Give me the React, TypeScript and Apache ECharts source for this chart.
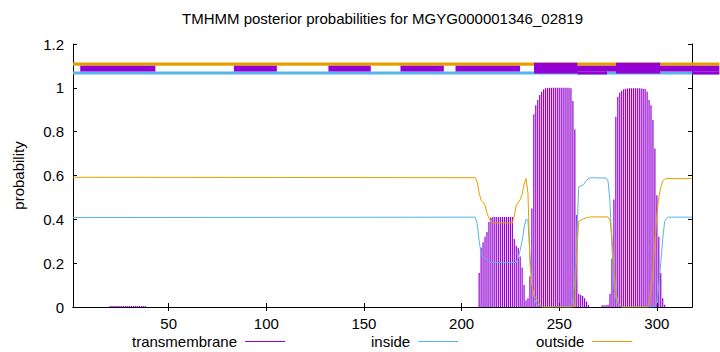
import React, { useEffect, useRef } from "react";
import * as echarts from "echarts";

const TITLE = "TMHMM posterior probabilities for MGYG000001346_02819";
const SEQ_START = 1;
const SEQ_END = 318;
const xTickValues = [50, 100, 150, 200, 250, 300];

// transmembrane posterior (impulses), [position, probability]
const transmembrane: [number, number][] = [
  [20, 0.005], [21, 0.005], [22, 0.005], [23, 0.005], [24, 0.005], [25, 0.005], [26, 0.005],
  [27, 0.005], [28, 0.005], [29, 0.005], [30, 0.005], [31, 0.005], [32, 0.005], [33, 0.005],
  [34, 0.005], [35, 0.005], [36, 0.005], [37, 0.005], [38, 0.005],
  [209, 0.155], [210, 0.27], [211, 0.296], [212, 0.32], [213, 0.342], [214, 0.388], [215, 0.408],
  [216, 0.411], [217, 0.411], [218, 0.411], [219, 0.411], [220, 0.411], [221, 0.411], [222, 0.411],
  [223, 0.411], [224, 0.411], [225, 0.411], [226, 0.411],
  [227, 0.31], [228, 0.28], [229, 0.27], [230, 0.23], [231, 0.18], [232, 0.1], [233, 0.03],
  [234, 0.04], [235, 0.14], [236, 0.45], [237, 0.88], [238, 0.92], [239, 0.944], [240, 0.967],
  [241, 0.982], [242, 0.993], [243, 0.998], [244, 1.0], [245, 1.0], [246, 1.0], [247, 1.0],
  [248, 1.0], [249, 1.0], [250, 1.0], [251, 1.0], [252, 1.0], [253, 1.0], [254, 1.0], [255, 1.0],
  [256, 0.998], [257, 0.94], [258, 0.81], [259, 0.42], [260, 0.06], [261, 0.055], [262, 0.05],
  [263, 0.04], [264, 0.025], [265, 0.01],
  [272, 0.008], [273, 0.008], [274, 0.008], [275, 0.01], [276, 0.06], [277, 0.22], [278, 0.49],
  [279, 0.868], [280, 0.959], [281, 0.979], [282, 0.987], [283, 0.993], [284, 0.996], [285, 0.997],
  [286, 0.998], [287, 0.998], [288, 0.998], [289, 0.998], [290, 0.998], [291, 0.998], [292, 0.997],
  [293, 0.996], [294, 0.995], [295, 0.982], [296, 0.944], [297, 0.921], [298, 0.853], [299, 0.723],
  [300, 0.51], [301, 0.32], [302, 0.155], [303, 0.04], [304, 0.01],
];

// inside posterior, [position, probability]
const inside: [number, number][] = [
  [1, 0.408], [207, 0.41], [208, 0.38], [209, 0.3], [210, 0.245], [211, 0.228], [212, 0.222],
  [213, 0.215], [214, 0.208], [215, 0.204], [216, 0.203], [228, 0.203], [229, 0.225], [230, 0.26],
  [231, 0.3], [232, 0.36], [233, 0.4], [234, 0.395], [235, 0.24], [236, 0.11], [237, 0.05],
  [238, 0.02], [239, 0.008], [240, 0.003], [241, 0], [256, 0], [257, 0.03], [258, 0.12],
  [259, 0.33], [260, 0.548], [261, 0.552], [262, 0.556], [263, 0.565], [264, 0.578], [265, 0.586],
  [266, 0.59], [274, 0.588], [275, 0.575], [276, 0.48], [277, 0.27], [278, 0.1], [279, 0.04],
  [280, 0.015], [281, 0.005], [282, 0], [299, 0], [300, 0.02], [301, 0.1], [302, 0.2],
  [303, 0.31], [304, 0.39], [305, 0.405], [306, 0.41], [318, 0.41],
];

// outside posterior, [position, probability]
const outside: [number, number][] = [
  [1, 0.592], [207, 0.59], [208, 0.57], [209, 0.52], [210, 0.487], [211, 0.478], [212, 0.465],
  [213, 0.43], [214, 0.405], [215, 0.388], [216, 0.384], [226, 0.384], [227, 0.415], [228, 0.465],
  [229, 0.476], [230, 0.49], [231, 0.515], [232, 0.56], [233, 0.586], [234, 0.52], [235, 0.2],
  [236, 0.1], [237, 0.055], [238, 0.042], [239, 0.03], [240, 0.01], [241, 0.003], [242, 0],
  [258, 0], [259, 0.25], [260, 0.39], [261, 0.395], [262, 0.4], [264, 0.408], [266, 0.411],
  [275, 0.411], [276, 0.395], [277, 0.32], [278, 0.19], [279, 0.07], [280, 0.025], [281, 0.008],
  [282, 0], [295, 0], [296, 0.01], [297, 0.08], [298, 0.16], [299, 0.3], [300, 0.42],
  [301, 0.5], [302, 0.545], [303, 0.575], [304, 0.583], [305, 0.586], [318, 0.586],
];

// top annotation bands: [start, end, kind]
const topBands: [number, number, string][] = [
  [1, 332, "outside"],
  [1, 332, "inside"],
  [4.7, 43.2, "mid"],
  [83.4, 105.4, "mid"],
  [131.8, 153.5, "mid"],
  [168.7, 190.9, "mid"],
  [196.9, 229.9, "mid"],
  [237.1, 332, "mid"],
  [259.3, 274.5, "low"],
  [318, 332, "low"],
  [237.1, 259.3, "tm"],
  [279.1, 301.7, "tm"],
];

const PURPLE = "#9400d3";
const BLUE = "#56b4e9";
const ORANGE = "#e69f00";
const FONT = "'Liberation Sans', Arial, sans-serif";

const bandLevels: Record<string, [number, number, string]> = {
  outside: [1.1005, 1.116, ORANGE],
  inside: [1.061, 1.0746, BLUE],
  mid: [1.0746, 1.1005, PURPLE],
  low: [1.061, 1.0746, PURPLE],
  tm: [1.0658, 1.1143, PURPLE],
};

export default function App() {
  const ref = useRef<HTMLDivElement>(null);
  useEffect(() => {
    if (!ref.current) return;
    const chart = echarts.init(ref.current, null, { renderer: "svg" });
    const axisLine = { show: true, lineStyle: { color: "#000", width: 1 } };
    const legendBase = {
      orient: "horizontal" as const,
      align: "right" as const,
      icon: "rect",
      itemWidth: 40,
      itemHeight: 1,
      padding: 0,
      top: 334,
      textStyle: { fontFamily: FONT, fontSize: 15, color: "#000", padding: [0, 3, 0, 0] },
    };
    chart.setOption({
      animation: false,
      backgroundColor: "#fff",
      title: {
        text: TITLE,
        left: 382.5,
        textAlign: "center",
        top: 11,
        padding: 0,
        textStyle: { fontFamily: FONT, fontSize: 15, fontWeight: "normal", color: "#000" },
      },
      legend: [
        { ...legendBase, left: 132, data: ["transmembrane"] },
        { ...legendBase, left: 371, data: ["inside"] },
        { ...legendBase, left: 536, data: ["outside"] },
      ],
      grid: { left: 73, right: 28, top: 44, bottom: 45, containLabel: false },
      xAxis: [
        {
          type: "value",
          min: SEQ_START,
          max: SEQ_END,
          axisLine,
          splitLine: { show: false },
          axisTick: { show: true, inside: true, length: 4, customValues: xTickValues, lineStyle: { color: "#000" } },
          axisLabel: { customValues: xTickValues, fontFamily: FONT, fontSize: 15, color: "#000", margin: 9 },
        },
        {
          type: "value",
          position: "top",
          min: SEQ_START,
          max: SEQ_END,
          axisLine,
          splitLine: { show: false },
          axisTick: { show: true, inside: true, length: 4, customValues: xTickValues, lineStyle: { color: "#000" } },
          axisLabel: { show: false },
        },
      ],
      yAxis: [
        {
          type: "value",
          min: 0,
          max: 1.2,
          interval: 0.2,
          name: "probability",
          nameLocation: "middle",
          nameRotate: 90,
          nameGap: 47,
          nameTextStyle: { fontFamily: FONT, fontSize: 15, color: "#000" },
          axisLine,
          splitLine: { show: false },
          axisTick: { show: true, inside: true, length: 4, lineStyle: { color: "#000" } },
          axisLabel: { fontFamily: FONT, fontSize: 15, color: "#000", margin: 9 },
        },
        {
          type: "value",
          position: "right",
          min: 0,
          max: 1.2,
          interval: 0.2,
          axisLine,
          splitLine: { show: false },
          axisTick: { show: true, inside: true, length: 4, lineStyle: { color: "#000" } },
          axisLabel: { show: false },
        },
      ],
      series: [
        {
          name: "transmembrane",
          type: "bar",
          data: transmembrane,
          barWidth: 1.2,
          itemStyle: { color: PURPLE },
          z: 2,
        },
        {
          name: "inside",
          type: "line",
          data: inside,
          showSymbol: false,
          symbol: "none",
          lineStyle: { color: BLUE, width: 1 },
          itemStyle: { color: BLUE },
          z: 3,
        },
        {
          name: "outside",
          type: "line",
          data: outside,
          showSymbol: false,
          symbol: "none",
          lineStyle: { color: ORANGE, width: 1 },
          itemStyle: { color: ORANGE },
          z: 4,
        },
        {
          name: "bands",
          type: "custom",
          clip: false,
          z: 5,
          data: topBands.map((b) => [b[0], b[1], ["outside", "inside", "mid", "low", "tm"].indexOf(b[2])]),
          encode: { x: [0, 1] },
          renderItem: (params: any, api: any) => {
            const kinds = ["outside", "inside", "mid", "low", "tm"];
            const kind = kinds[api.value(2)];
            const [lo, hi, color] = bandLevels[kind];
            const p1 = api.coord([api.value(0), hi]);
            const p2 = api.coord([api.value(1), lo]);
            return {
              type: "rect",
              shape: { x: p1[0], y: p1[1], width: p2[0] - p1[0], height: p2[1] - p1[1] },
              style: { fill: color },
            };
          },
        },
      ],
    });
    return () => chart.dispose();
  }, []);
  return (
    <div
      ref={ref}
      style={{ position: "fixed", left: 0, top: 0, width: 720, height: 352, background: "#fff" }}
    />
  );
}
